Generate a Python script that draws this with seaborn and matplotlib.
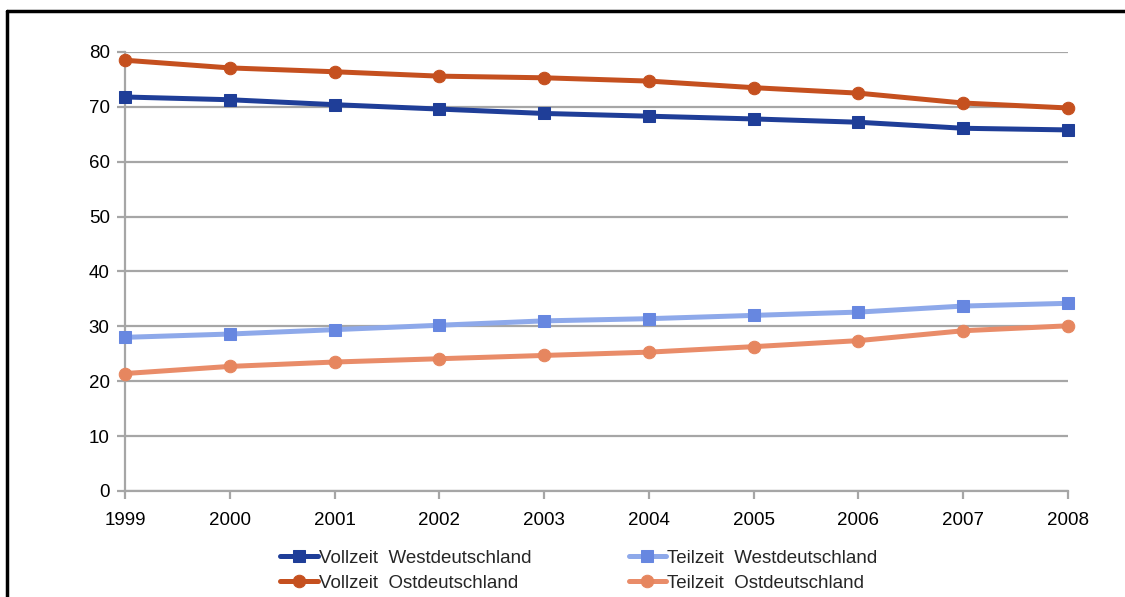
import matplotlib
matplotlib.use('Agg')
import matplotlib.pyplot as plt
from matplotlib.lines import Line2D
import pandas as pd
import seaborn as sns

years = [1999, 2000, 2001, 2002, 2003, 2004, 2005, 2006, 2007, 2008]
vollzeit_west = [71.8, 71.3, 70.4, 69.6, 68.8, 68.3, 67.8, 67.2, 66.1, 65.8]
vollzeit_ost = [78.5, 77.1, 76.4, 75.6, 75.3, 74.7, 73.5, 72.5, 70.7, 69.8]
teilzeit_west = [28.0, 28.6, 29.4, 30.2, 31.0, 31.4, 32.0, 32.6, 33.7, 34.2]
teilzeit_ost = [21.4, 22.7, 23.5, 24.1, 24.7, 25.3, 26.3, 27.4, 29.2, 30.1]

names = ['Vollzeit  Westdeutschland', 'Vollzeit  Ostdeutschland',
         'Teilzeit  Westdeutschland', 'Teilzeit  Ostdeutschland']

sns.set_theme(style='white')
plt.rcParams['font.family'] = ['Liberation Sans', 'DejaVu Sans']

df = pd.DataFrame({'Jahr': years * 4,
                   'Wert': vollzeit_west + vollzeit_ost + teilzeit_west + teilzeit_ost,
                   'Reihe': [n for n in names for _ in years]})

# (line colour, marker colour, marker)
styles = {
    names[0]: ('#1F3E98', '#1F3E98', 's'),
    names[1]: ('#C5501F', '#C5501F', 'o'),
    names[2]: ('#8EA9EA', '#6787E0', 's'),
    names[3]: ('#E98C69', '#E6865F', 'o'),
}

fig = plt.figure(figsize=(11.25, 5.97), dpi=100)
ax = fig.add_axes([0.1111, 0.1776, 0.8382, 0.7353])

for n in names:
    lc, mc, mk = styles[n]
    sns.lineplot(data=df[df['Reihe'] == n], x='Jahr', y='Wert', ax=ax,
                 color=lc, linewidth=3.6, marker=mk, markersize=9,
                 markerfacecolor=mc, markeredgecolor=mc, label=n,
                 zorder=3, clip_on=False)

ax.set_xlim(1999, 2008)
ax.set_ylim(0, 80)
ax.set_xticks(years)
ax.set_yticks(range(0, 81, 10))
ax.set_xlabel('')
ax.set_ylabel('')
ax.grid(axis='y', color='#A6A6A6', linewidth=1.6)
ax.grid(axis='x', visible=False)
for s in ['top', 'right']:
    ax.spines[s].set_visible(False)
for s in ['left', 'bottom']:
    ax.spines[s].set_color('#A6A6A6')
    ax.spines[s].set_linewidth(1.6)
ax.tick_params(axis='both', which='both', direction='out', length=6, width=1.6,
               color='#A6A6A6', labelsize=13.5, labelcolor='black', pad=5,
               left=True, bottom=True)
ax.tick_params(axis='x', pad=9)

handles, labels = ax.get_legend_handles_labels()
ax.legend(handles, labels, ncol=2, loc='upper left', bbox_to_anchor=(0.249, 0.079),
          bbox_transform=fig.transFigure, frameon=False, fontsize=13.5,
          handlelength=2.0, handletextpad=0.05, columnspacing=5.2,
          labelspacing=0.42, borderpad=0, borderaxespad=0)

# black frame around the chart area (top and left edge)
fig.add_artist(Line2D([0.0065, 1.0], [0.9815, 0.9815], color='black', linewidth=2.5,
                      transform=fig.transFigure))
fig.add_artist(Line2D([0.0065, 0.0065], [0.0, 0.9815], color='black', linewidth=2.5,
                      transform=fig.transFigure))

fig.savefig('out.png', dpi=100)
